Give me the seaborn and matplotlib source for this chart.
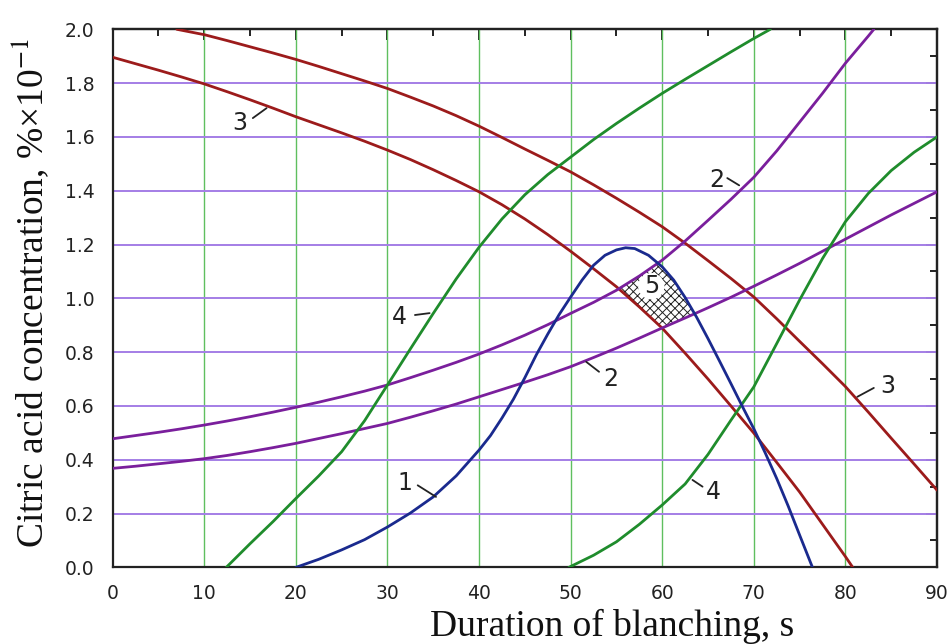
import numpy as np
import matplotlib
matplotlib.use("Agg")
import matplotlib.pyplot as plt
import seaborn as sns
from matplotlib.ticker import MultipleLocator, FixedLocator, FixedFormatter

# ---------------- data ----------------
curve1_x = [20, 22.5, 25, 27.5, 30, 32.5, 35, 37.5, 40, 41.25, 42.5, 43.75, 45, 46.25, 47.5, 48.75, 50,
            51.25, 52.5, 53.75, 55, 56, 57, 58.5, 60, 61.25, 62.5, 63.75, 65, 66.25, 67.5, 68.75, 70,
            71.25, 72.5, 73.75, 75, 76.4]
curve1_y = [0.0, 0.03, 0.065, 0.103, 0.15, 0.202, 0.262, 0.34, 0.436, 0.49, 0.555, 0.625, 0.705, 0.79,
            0.867, 0.94, 1.005, 1.068, 1.123, 1.16, 1.18, 1.188, 1.185, 1.16, 1.117, 1.068, 1.003, 0.93,
            0.85, 0.767, 0.683, 0.598, 0.515, 0.425, 0.33, 0.228, 0.12, 0.0]

curve2a_x = [0, 2.5, 5, 7.5, 10, 12.5, 15, 17.5, 20, 22.5, 25, 27.5, 30, 32.5, 35, 37.5, 40, 42.5, 45,
             47.5, 50, 52.5, 55, 57.5, 60, 62.5, 65, 67.5, 70, 72.5, 75, 77.5, 80, 82.5, 85, 87.5, 90]
curve2a_y = [0.368, 0.376, 0.385, 0.394, 0.404, 0.416, 0.43, 0.445, 0.461, 0.479, 0.497, 0.516, 0.535,
             0.558, 0.582, 0.607, 0.634, 0.661, 0.688, 0.716, 0.746, 0.78, 0.815, 0.852, 0.89, 0.927,
             0.965, 1.004, 1.045, 1.087, 1.13, 1.175, 1.22, 1.265, 1.31, 1.353, 1.396]

curve2b_x = [0, 2.5, 5, 7.5, 10, 12.5, 15, 17.5, 20, 22.5, 25, 27.5, 30, 32.5, 35, 37.5, 40, 42.5, 45,
             47.5, 50, 52.5, 55, 57.5, 60, 62.5, 65, 67.5, 70, 72.5, 75, 77.5, 80, 82.5, 83.1]
curve2b_y = [0.478, 0.49, 0.502, 0.515, 0.529, 0.544, 0.56, 0.577, 0.595, 0.614, 0.634, 0.655, 0.678,
             0.705, 0.733, 0.762, 0.793, 0.827, 0.863, 0.902, 0.944, 0.985, 1.03, 1.083, 1.142, 1.213,
             1.29, 1.368, 1.45, 1.548, 1.655, 1.762, 1.874, 1.975, 2.0]

curve3a_x = [7, 10, 12.5, 15, 17.5, 20, 22.5, 25, 27.5, 30, 32.5, 35, 37.5, 40, 42.5, 45, 47.5, 50, 52.5,
             55, 57.5, 60, 62.5, 65, 67.5, 70, 72.5, 75, 77.5, 80, 82.5, 85, 87.5, 90]
curve3a_y = [2.0, 1.98, 1.958, 1.935, 1.912, 1.888, 1.862, 1.835, 1.808, 1.78, 1.748, 1.715, 1.679, 1.64,
             1.598, 1.555, 1.513, 1.47, 1.422, 1.372, 1.32, 1.266, 1.205, 1.14, 1.074, 1.005, 0.924,
             0.84, 0.757, 0.672, 0.577, 0.48, 0.384, 0.287]

curve3b_x = [0, 2.5, 5, 7.5, 10, 12.5, 15, 17.5, 20, 22.5, 25, 27.5, 30, 32.5, 35, 37.5, 40, 42.5, 45,
             47.5, 50, 52.5, 55, 57.5, 60, 62.5, 65, 67.5, 70, 72.5, 75, 77.5, 80, 80.8]
curve3b_y = [1.896, 1.872, 1.848, 1.823, 1.797, 1.768, 1.738, 1.707, 1.675, 1.645, 1.615, 1.584, 1.551,
             1.516, 1.478, 1.438, 1.396, 1.348, 1.295, 1.237, 1.175, 1.11, 1.043, 0.968, 0.889, 0.796,
             0.70, 0.60, 0.499, 0.39, 0.28, 0.16, 0.04, 0.0]

curve4a_x = [12.4, 15, 17.5, 20, 22.5, 25, 27.5, 30, 32.5, 35, 37.5, 40, 42.5, 45, 47.5, 50, 52.5, 55,
             57.5, 60, 62.5, 65, 67.5, 70, 71.8]
curve4a_y = [0.0, 0.088, 0.17, 0.256, 0.34, 0.43, 0.545, 0.678, 0.812, 0.944, 1.072, 1.19, 1.295, 1.385,
             1.46, 1.525, 1.59, 1.65, 1.707, 1.762, 1.814, 1.865, 1.916, 1.966, 2.0]

curve4b_x = [49.8, 52.5, 55, 57.5, 60, 62.5, 65, 67.5, 70, 72.5, 75, 77.5, 80, 82.5, 85, 87.5, 90]
curve4b_y = [0.0, 0.045, 0.095, 0.16, 0.232, 0.31, 0.42, 0.547, 0.671, 0.832, 0.994, 1.148, 1.285, 1.39,
             1.475, 1.543, 1.6]

x_ticks = [0, 10, 20, 30, 40, 50, 60, 70, 80, 90]
x_tick_labels = ["0", "10", "20", "30", "40", "50", "60", "70", "80", "90"]
y_ticks = [0.0, 0.2, 0.4, 0.6, 0.8, 1.0, 1.2, 1.4, 1.6, 1.8, 2.0]
y_tick_labels = ["0.0", "0.2", "0.4", "0.6", "0.8", "1.0", "1.2", "1.4", "1.6", "1.8", "2.0"]

# curve labels: text, text position, leader start, leader end
labels = [
    ("1", (31.9, 0.315), (33.3, 0.305), (35.3, 0.262)),
    ("2", (54.4, 0.70), (53.1, 0.727), (51.7, 0.764)),
    ("2", (66.0, 1.44), (67.1, 1.447), (68.4, 1.42)),
    ("3", (13.9, 1.65), (15.3, 1.67), (16.8, 1.707)),
    ("3", (84.6, 0.675), (83.1, 0.667), (81.3, 0.634)),
    ("4", (31.3, 0.93), (33.0, 0.938), (34.6, 0.945)),
    ("4", (65.6, 0.28), (64.4, 0.30), (63.3, 0.325)),
]

# ---------------- style ----------------
sns.set_theme(style="white")
plt.rcParams["font.family"] = ["DejaVu Sans"]
plt.rcParams["mathtext.fontset"] = "stix"
plt.rcParams["hatch.linewidth"] = 0.7

RED = "#9c1b1b"
BLUE = "#1a2a8e"
PURPLE = "#7a1f9c"
GREEN = "#1f8c2c"
GRID_GREEN = "#5fbf5f"
GRID_PURPLE = "#a47ee6"

fig = plt.figure(figsize=(9.51, 6.44), dpi=100)
ax = fig.add_axes([0.1185, 0.119, 0.8668, 0.8355])

# grid
for xv in x_ticks[1:-1]:
    ax.axvline(xv, color=GRID_GREEN, lw=1.0, zorder=1)
for yv in y_ticks[1:-1]:
    ax.axhline(yv, color=GRID_PURPLE, lw=1.4, zorder=1)

# hatched region 5 (bounded by the curves)
xx = np.linspace(54, 65, 600)
lo = np.maximum(np.interp(xx, curve2a_x, curve2a_y), np.interp(xx, curve3b_x, curve3b_y))
hi = np.minimum(np.interp(xx, curve2b_x, curve2b_y), np.interp(xx, curve1_x, curve1_y))
ax.fill_between(xx, lo, hi, where=hi > lo, facecolor="white", edgecolor="#222222",
                hatch="xxxx", linewidth=0, zorder=2)

lw = 2.0
for xs, ys, c in [
    (curve3a_x, curve3a_y, RED), (curve3b_x, curve3b_y, RED),
    (curve2a_x, curve2a_y, PURPLE), (curve2b_x, curve2b_y, PURPLE),
    (curve4a_x, curve4a_y, GREEN), (curve4b_x, curve4b_y, GREEN),
    (curve1_x, curve1_y, BLUE),
]:
    sns.lineplot(x=xs, y=ys, color=c, linewidth=lw, ax=ax, legend=False, zorder=3)

for txt, (tx, ty), (x0, y0), (x1, y1) in labels:
    ax.plot([x0, x1], [y0, y1], color="#222222", lw=1.3, zorder=4)
    ax.text(tx, ty, txt, fontsize=17, color="#222222", ha="center", va="center", zorder=5)

ax.text(58.8, 1.045, "5", fontsize=17, color="#222222", ha="center", va="center", zorder=5,
        bbox=dict(boxstyle="circle,pad=0.05", fc="white", ec="none"))

ax.set_xlim(0, 90)
ax.set_ylim(0, 2.0)
ax.xaxis.set_major_locator(FixedLocator(x_ticks))
ax.xaxis.set_major_formatter(FixedFormatter(x_tick_labels))
ax.yaxis.set_major_locator(FixedLocator(y_ticks))
ax.yaxis.set_major_formatter(FixedFormatter(y_tick_labels))
ax.xaxis.set_minor_locator(MultipleLocator(5))
ax.yaxis.set_minor_locator(MultipleLocator(0.1))
ax.tick_params(which="both", direction="out", color="#222222", width=1.4,
               labelsize=13.5, labelcolor="#222222")
ax.tick_params(axis="y", which="major", pad=5)
ax.tick_params(axis="x", which="major", pad=4)
ax.tick_params(which="major", length=8)
ax.tick_params(which="minor", length=5)

# inward ticks on top and right
top = ax.secondary_xaxis("top")
top.xaxis.set_major_locator(FixedLocator(x_ticks))
top.xaxis.set_minor_locator(MultipleLocator(5))
top.tick_params(which="both", direction="in", labeltop=False, color="#222222", width=1.4)
top.tick_params(which="major", length=8)
top.tick_params(which="minor", length=5)
right = ax.secondary_yaxis("right")
right.yaxis.set_major_locator(FixedLocator(y_ticks))
right.yaxis.set_minor_locator(MultipleLocator(0.1))
right.tick_params(which="both", direction="in", labelright=False, color="#222222", width=1.4)
right.tick_params(which="major", length=8)
right.tick_params(which="minor", length=5)
for sp in list(ax.spines.values()) + [top.spines["top"], right.spines["right"]]:
    sp.set_color("#222222")
    sp.set_linewidth(1.6)

ax.set_xlabel("Duration of blanching, s", fontsize=27, family="Liberation Serif", color="#111111")
ax.xaxis.set_label_coords(0.606, -0.078)
ax.set_ylabel("Citric acid concentration, %×10$^{-1}$", fontsize=27, family="Liberation Serif",
              color="#111111")
ax.yaxis.set_label_coords(-0.074, 0.51)

fig.savefig("out.png", dpi=100)
